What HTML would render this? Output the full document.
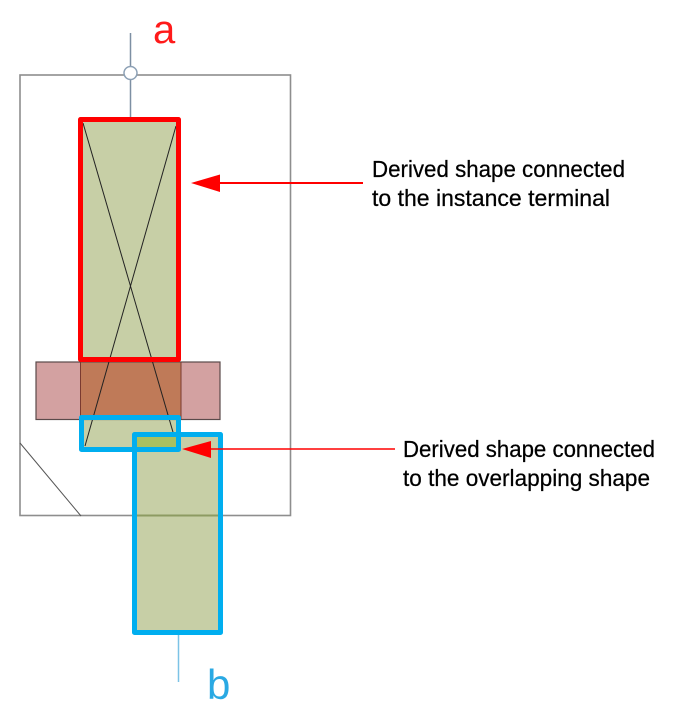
<!DOCTYPE html>
<html>
<head>
<meta charset="utf-8">
<style>
html,body{margin:0;padding:0;background:#fff;}
svg{display:block;}
text{font-family:"Liberation Sans",sans-serif;}
</style>
</head>
<body>
<svg width="675" height="723" viewBox="0 0 675 723" xmlns="http://www.w3.org/2000/svg">
  <rect width="675" height="723" fill="#ffffff"/>
  <!-- outer rect -->
  <rect x="20" y="75" width="270.5" height="440.5" fill="none" stroke="#8e8e8e" stroke-width="1.6"/>
  <!-- diagonal -->
  <line x1="20" y1="443" x2="81" y2="516" stroke="#555" stroke-width="1"/>
  <!-- green shape -->
  <rect x="80" y="119" width="100" height="331" fill="#c7cfa6"/>
  <!-- pink rect -->
  <rect x="36" y="362" width="184" height="57.5" fill="#d3a1a1" stroke="#5a4a4a" stroke-width="1.2"/>
  <rect x="80" y="362.5" width="101" height="57" fill="#bf7a58"/>
  <line x1="80.5" y1="362" x2="80.5" y2="419" stroke="#7a3a30" stroke-width="1"/>
  <line x1="181" y1="362" x2="181" y2="419" stroke="#7a3a30" stroke-width="1"/>
  <!-- X lines -->
  <line x1="83" y1="123" x2="175" y2="439" stroke="#222" stroke-width="1"/>
  <line x1="176" y1="126" x2="85" y2="446" stroke="#222" stroke-width="1"/>
  <!-- big blue rect fill -->
  <rect x="134" y="434" width="87" height="199" fill="#c7cfa6"/>
  <rect x="137" y="437" width="39" height="10" fill="#a9c060"/>
  <line x1="137" y1="515.5" x2="218" y2="515.5" stroke="#8d9b62" stroke-width="2"/>
  <!-- red rect -->
  <rect x="80.5" y="119.5" width="98" height="240" fill="none" stroke="#ff0000" stroke-width="5" stroke-linejoin="round"/>
  <!-- small blue rect -->
  <rect x="81.5" y="417.5" width="97" height="32" fill="none" stroke="#00aeef" stroke-width="5" stroke-linejoin="round"/>
  <!-- big blue rect -->
  <rect x="134.5" y="434.5" width="86" height="198" fill="none" stroke="#00aeef" stroke-width="5" stroke-linejoin="round"/>
  <!-- top terminal -->
  <line x1="130.5" y1="33" x2="130.5" y2="117" stroke="#7d8fa3" stroke-width="1.5"/>
  <circle cx="130.5" cy="73" r="6.5" fill="#ffffff" stroke="#8ca0b5" stroke-width="1.5"/>
  <!-- bottom terminal -->
  <line x1="178.5" y1="635" x2="178.5" y2="682" stroke="#7cc3e6" stroke-width="1.5"/>
  <!-- labels a / b -->
  <text x="153" y="43" font-size="40" fill="#ff1a1a">a</text>
  <text x="207" y="699" font-size="42" fill="#2aa9e3">b</text>
  <!-- arrow 1 -->
  <line x1="218" y1="183" x2="363" y2="183" stroke="#ff0000" stroke-width="2"/>
  <polygon points="191,183 220,174.5 220,192" fill="#ff0000"/>
  <!-- arrow 2 -->
  <line x1="209" y1="449" x2="395" y2="449" stroke="#ff0000" stroke-width="1.6"/>
  <polygon points="182,449 211,441 211,458" fill="#ff0000"/>
  <!-- texts -->
  <g fill="#000" stroke="#000" stroke-width="0.25" font-size="23.5">
  <text x="372" y="177" textLength="253" lengthAdjust="spacingAndGlyphs">Derived shape connected</text>
  <text x="372" y="206" textLength="238" lengthAdjust="spacingAndGlyphs">to the instance terminal</text>
  <text x="403" y="457" textLength="252" lengthAdjust="spacingAndGlyphs">Derived shape connected</text>
  <text x="403" y="486" textLength="247" lengthAdjust="spacingAndGlyphs">to the overlapping shape</text>
  </g>
</svg>
</body>
</html>
